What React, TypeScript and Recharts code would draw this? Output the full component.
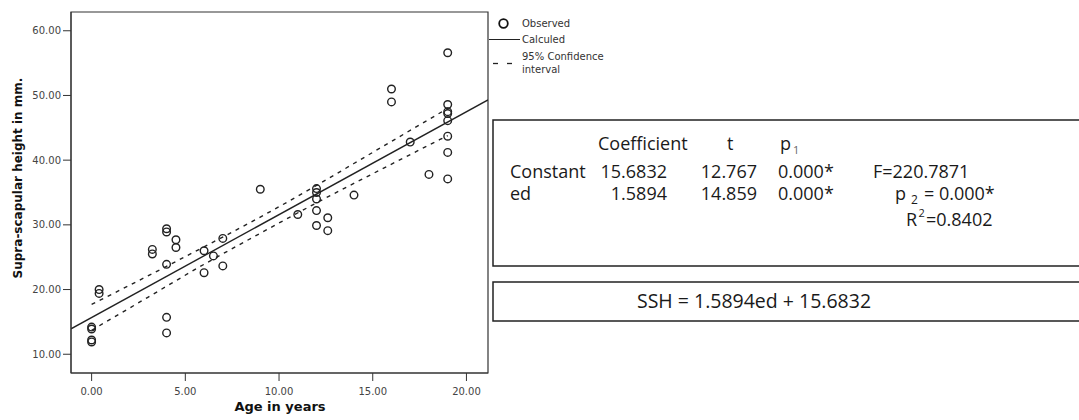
import { ComposedChart, Line, ReferenceArea, Scatter, XAxis, YAxis } from 'recharts';

// observed points (age in years, supra-scapular height in mm)
const obsAge = [
  0, 0, 0, 0, 0.4, 0.4, 3.24, 3.24, 4, 4, 4, 4, 4, 4.5, 4.5, 6, 6, 6.5, 7, 7, 9, 11, 12, 12, 12, 12, 12,
  12.6, 12.6, 14, 16, 16, 17, 18, 19, 19, 19, 19, 19, 19, 19, 19,
];
const obsSSH = [
  14.2, 13.9, 12.2, 11.9, 20.0, 19.4, 26.2, 25.5, 29.4, 28.9, 23.9, 15.7, 13.3, 27.7, 26.5, 26.0, 22.6,
  25.2, 27.9, 23.65, 35.5, 31.6, 35.6, 35.0, 34.0, 32.2, 29.9, 31.1, 29.1, 34.6, 51.0, 49.0, 42.8, 37.8,
  56.6, 48.6, 47.5, 47.2, 46.1, 43.7, 41.2, 37.1,
];

// fitted line read at the frame edges
const fitAge = [-1.1, 21.15];
const fitSSH = [13.93, 49.3];

// 95% confidence band
const ciAge = [0, 3, 6, 9, 12, 15, 19];
const ciUpper = [17.7, 22.1, 26.6, 31.2, 36.1, 41.2, 48.0];
const ciLower = [13.7, 18.8, 23.9, 28.7, 33.4, 37.9, 43.8];

const xTicks = [0, 5, 10, 15, 20];
const yTicks = [10, 20, 30, 40, 50, 60];

const observed = obsAge.map((x, i) => ({ x, y: obsSSH[i] }));
const fitted = fitAge.map((x, i) => ({ x, y: fitSSH[i] }));
const upper = ciAge.map((x, i) => ({ x, y: ciUpper[i] }));
const lower = ciAge.map((x, i) => ({ x, y: ciLower[i] }));

const X_DOMAIN: [number, number] = [-1.1, 21.15];
const Y_DOMAIN: [number, number] = [7.1, 62.9];

const ink = '#222';
const tickStyle = { fontSize: 10, fill: '#444', fontFamily: 'DejaVu Sans' };
const tableFont = { fontFamily: 'Open Sans', fontSize: 18, fill: '#1a1a1a' };

const Ring = (props: any) => (
  <circle cx={props.cx} cy={props.cy} r={3.8} fill="none" stroke={ink} strokeWidth={1.4} />
);

export default function App() {
  return (
    <div style={{ position: 'absolute', left: 0, top: 0, width: 1079, height: 420, background: '#fff' }}>
      <ComposedChart
        width={1079}
        height={420}
        margin={{ top: 12, right: 591, bottom: 0, left: 0 }}
        style={{ position: 'absolute', left: 0, top: 0 }}>
        <XAxis
          type="number"
          dataKey="x"
          domain={X_DOMAIN}
          ticks={xTicks}
          allowDataOverflow
          height={47}
          tickSize={8}
          tickMargin={7}
          tickFormatter={(v: number) => v.toFixed(2)}
          tick={tickStyle}
          stroke="#333"
        />
        <YAxis
          type="number"
          dataKey="y"
          domain={Y_DOMAIN}
          ticks={yTicks}
          allowDataOverflow
          width={71}
          tickSize={8}
          tickMargin={2}
          tickFormatter={(v: number) => v.toFixed(2)}
          tick={tickStyle}
          stroke="#333"
        />
        <ReferenceArea
          x1={X_DOMAIN[0]}
          x2={X_DOMAIN[1]}
          y1={Y_DOMAIN[0]}
          y2={Y_DOMAIN[1]}
          fill="none"
          stroke="#333"
          strokeWidth={1.2}
          fillOpacity={0}
        />
        <Line
          data={upper}
          dataKey="y"
          type="monotone"
          stroke={ink}
          strokeWidth={1.4}
          strokeDasharray="4 5"
          dot={false}
          isAnimationActive={false}
        />
        <Line
          data={lower}
          dataKey="y"
          type="monotone"
          stroke={ink}
          strokeWidth={1.4}
          strokeDasharray="4 5"
          dot={false}
          isAnimationActive={false}
        />
        <Line
          data={fitted}
          dataKey="y"
          type="linear"
          stroke={ink}
          strokeWidth={1.4}
          dot={false}
          isAnimationActive={false}
        />
        <Scatter data={observed} dataKey="y" shape={Ring} isAnimationActive={false} />
      </ComposedChart>

      <svg
        width={1079}
        height={420}
        style={{ position: 'absolute', left: 0, top: 0, pointerEvents: 'none' }}>
        {/* axis titles */}
        <text x={280} y={411} textAnchor="middle" fontFamily="DejaVu Sans" fontWeight="bold" fontSize={13} fill="#111">
          Age in years
        </text>
        <text
          transform="translate(22,178) rotate(-90)"
          textAnchor="middle"
          fontFamily="DejaVu Sans"
          fontWeight="bold"
          fontSize={12}
          fill="#111">
          Supra-scapular height in mm.
        </text>

        {/* legend */}
        <g fontFamily="DejaVu Sans" fontSize={10} fill="#333">
          <circle cx={503.5} cy={23.5} r={4.3} fill="none" stroke="#111" strokeWidth={1.8} />
          <text x={522} y={27}>Observed</text>
          <line x1={489} x2={520} y1={39.5} y2={39.5} stroke={ink} strokeWidth={1} />
          <text x={522} y={43}>Calculed</text>
          <line x1={493} x2={498} y1={63.5} y2={63.5} stroke={ink} strokeWidth={1.3} />
          <line x1={507} x2={512} y1={63.5} y2={63.5} stroke={ink} strokeWidth={1.3} />
          <text x={522} y={60}>95% Confidence</text>
          <text x={522} y={73}>interval</text>
        </g>

        {/* regression table */}
        <path d="M1085,120 H493 V266 H1085" fill="none" stroke={ink} strokeWidth={1.5} />
        <path d="M1085,282 H493 V321 H1085" fill="none" stroke={ink} strokeWidth={1.5} />
        <g {...tableFont}>
          <text x={598} y={150}>Coefficient</text>
          <text x={727} y={150}>t</text>
          <text x={780} y={150}>p</text>
          <text x={793} y={154} fontSize={11} fill="#666">1</text>

          <text x={510} y={178}>Constant</text>
          <text x={667} y={178} textAnchor="end">15.6832</text>
          <text x={757} y={178} textAnchor="end">12.767</text>
          <text x={778} y={178}>0.000*</text>
          <text x={873} y={178}>F=220.7871</text>

          <text x={510} y={200}>ed</text>
          <text x={667} y={200} textAnchor="end">1.5894</text>
          <text x={757} y={200} textAnchor="end">14.859</text>
          <text x={778} y={200}>0.000*</text>
          <text x={895} y={200}>p</text>
          <text x={911} y={204} fontSize={12}>2</text>
          <text x={924} y={200}>= 0.000*</text>

          <text x={906} y={226}>R</text>
          <text x={918.5} y={217} fontSize={11}>2</text>
          <text x={926} y={226}>=0.8402</text>

          <text x={754} y={308} textAnchor="middle" fontSize={19.5}>
            SSH = 1.5894ed + 15.6832
          </text>
        </g>
      </svg>
    </div>
  );
}
